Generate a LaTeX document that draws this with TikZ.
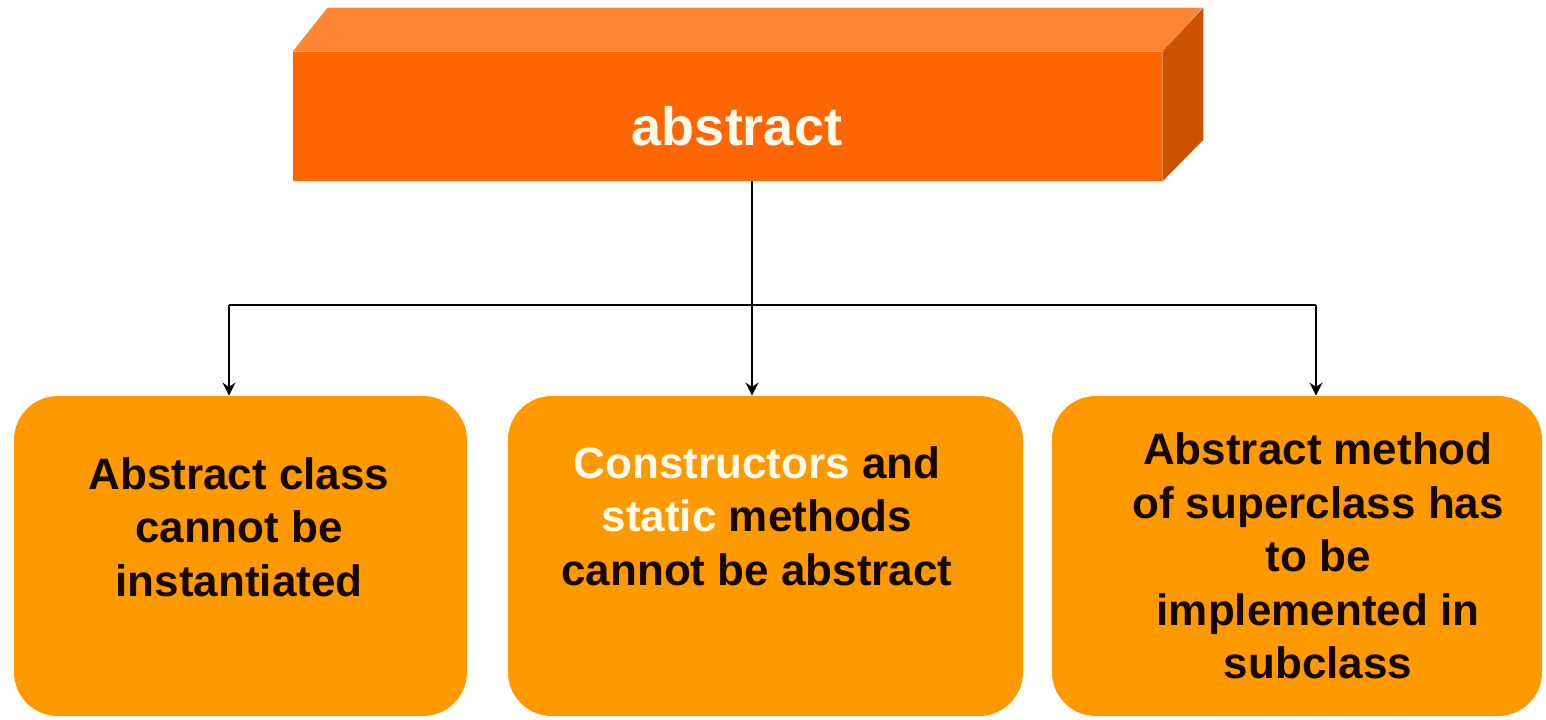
\documentclass[tikz,border=0pt]{standalone}
\usepackage{fontspec}
\setmainfont{Liberation Sans}
\usetikzlibrary{arrows.meta}
\definecolor{boxorange}{RGB}{255,153,0}
\definecolor{frontorange}{RGB}{255,102,0}
\definecolor{toporange}{RGB}{255,133,51}
\definecolor{sideorange}{RGB}{204,82,0}
\definecolor{creamwhite}{RGB}{255,250,235}
\definecolor{inkdark}{RGB}{20,8,0}
\tikzset{
  px/.style={x=0.5pt,y=-0.5pt},
  infobox/.style={draw=none,fill=boxorange,rounded corners=22pt,inner sep=0pt},
  infotext/.style={align=center,text=inkdark,font=\bfseries\fontsize{22}{26.75}\selectfont,inner sep=0pt},
  conn/.style={line width=1pt,draw=black},
  connarrow/.style={conn,-{Stealth[length=6.5pt,width=6.5pt]}}
}
\begin{document}
\begin{tikzpicture}[px]
\useasboundingbox (0,0) rectangle (1546,719);
% top 3D box
\node[fill=frontorange,minimum width=434.5pt,minimum height=64.5pt,inner sep=0pt] (top) at (727.5,116.5) {};
\fill[toporange] (top.north west) -- ++(35,-44) -- ++(875,0) -- (top.north east) -- cycle;
\fill[sideorange] (top.north east) -- ++(41,-44) -- ++(0,132) -- (top.south east) -- cycle;
\node[text=creamwhite,font=\bfseries\fontsize{27}{32}\selectfont,inner sep=0pt] (toplabel) at (737,126) {abstract};
% boxes
\node[infobox,minimum width=226.5pt,minimum height=160pt] (b1) at (240.5,556) {};
\node[infobox,minimum width=257.5pt,minimum height=160pt] (b2) at (765.5,556) {};
\node[infobox,minimum width=245pt,minimum height=160pt] (b3) at (1297,556) {};
% texts
\node[infotext] (t1) at (239,527) {Abstract class\\cannot be\\instantiated};
\node[infotext] (t2) at (757,516) {\textcolor{creamwhite}{Constructors} and\\\textcolor{creamwhite}{static} methods\\cannot be abstract};
\node[infotext] (t3) at (1318,556) {Abstract method\\of superclass has\\to be\\implemented in\\subclass};
% connectors
\coordinate (jl) at (229,305);
\coordinate (jn) at (752,305);
\coordinate (jr) at (1316,305);
\draw[conn] (jl) -- (jr);
\draw[connarrow] (top.south -| jn) -- (b2.north -| jn);
\draw[connarrow] (jl) -- (b1.north -| jl);
\draw[connarrow] (jr) -- (b3.north -| jr);
\end{tikzpicture}
\end{document}
